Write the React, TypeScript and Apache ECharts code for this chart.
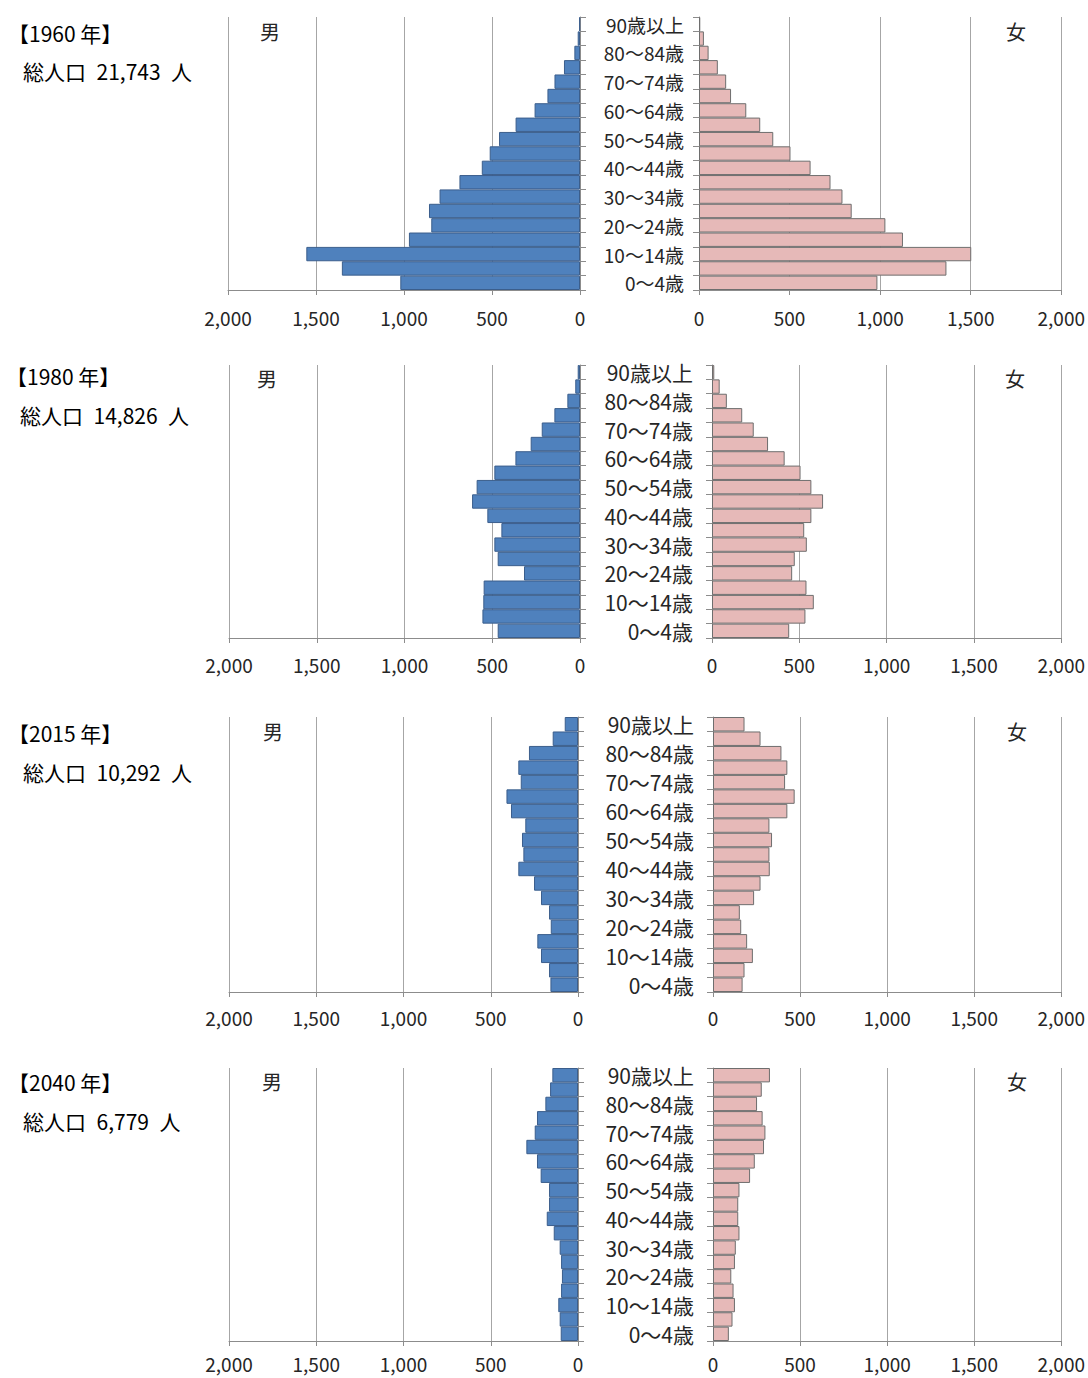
import React, { useEffect, useRef } from "react";
import * as echarts from "echarts";

const ageGroups = [
  "0～4歳", "5～9歳", "10～14歳", "15～19歳", "20～24歳", "25～29歳", "30～34歳",
  "35～39歳", "40～44歳", "45～49歳", "50～54歳", "55～59歳", "60～64歳", "65～69歳",
  "70～74歳", "75～79歳", "80～84歳", "85～89歳", "90歳以上",
];

const years = ["1960", "1980", "2015", "2040"];
const totals = ["21,743", "14,826", "10,292", "6,779"];

const male1960 = [1021, 1353, 1555, 972, 845, 858, 798, 685, 558, 513, 460, 366, 258, 185, 145, 91, 32, 13, 4];
const female1960 = [985, 1366, 1503, 1126, 1029, 843, 792, 726, 616, 505, 410, 338, 261, 177, 150, 104, 53, 27, 7];
const male1980 = [469, 556, 551, 549, 319, 469, 488, 448, 528, 615, 589, 488, 368, 281, 218, 146, 72, 27, 13];
const female1980 = [442, 535, 583, 541, 459, 474, 543, 528, 569, 636, 569, 507, 416, 321, 239, 173, 85, 44, 13];
const male2015 = [158, 166, 212, 233, 156, 166, 212, 252, 342, 313, 321, 302, 384, 410, 328, 342, 281, 145, 76];
const female2015 = [170, 181, 229, 196, 162, 154, 236, 273, 326, 324, 339, 324, 427, 469, 414, 427, 393, 273, 181];
const male2040 = [99, 105, 113, 97, 92, 97, 105, 139, 179, 166, 166, 214, 235, 296, 248, 235, 187, 160, 147];
const female2040 = [91, 112, 126, 118, 105, 126, 131, 152, 145, 145, 152, 213, 240, 293, 301, 285, 253, 280, 327];

const maleSeries = [male1960, male1980, male2015, male2040];
const femaleSeries = [female1960, female1980, female2015, female2040];

const xTicks = { min: 0, max: 2000, interval: 500 };

// layout (pixels)
const layout = [
  { T: 17, B: 290, mL: 228, mR: 580, fL: 699, fR: 1064, catFont: 19, catMargin: 15, xMargin: 18, titleY: 35, totalY: 73, titleX: 8, totalX: 23, maleX: 270, femX: 1016, sexY: 31 },
  { T: 365, B: 638, mL: 229, mR: 580, fL: 712, fR: 1063, catFont: 21, catMargin: 19, xMargin: 17, titleY: 378, totalY: 417, titleX: 6, totalX: 20, maleX: 267, femX: 1015, sexY: 378 },
  { T: 717, B: 992, mL: 229, mR: 578, fL: 713, fR: 1062, catFont: 21, catMargin: 19, xMargin: 16, titleY: 735, totalY: 774, titleX: 8, totalX: 23, maleX: 273, femX: 1017, sexY: 731 },
  { T: 1068, B: 1341, mL: 229, mR: 578, fL: 713, fR: 1064, catFont: 21, catMargin: 19, xMargin: 13, titleY: 1084, totalY: 1123, titleX: 8, totalX: 23, maleX: 272, femX: 1017, sexY: 1081 },
];

const FONT = '"Noto Sans CJK JP", "Noto Sans", sans-serif';
const GRID_COLOR = "#a6a6a6";
const AXIS_COLOR = "#8c8c8c";
const TEXT_COLOR = "#262626";
const SP = "\u2002";

function fmt(v: number) {
  return v.toLocaleString("en-US");
}

export default function App() {
  const ref = useRef<HTMLDivElement>(null);
  useEffect(() => {
    if (!ref.current) return;
    const chart = echarts.init(ref.current, null, { renderer: "svg" });
    const grids: any[] = [];
    const xAxes: any[] = [];
    const yAxes: any[] = [];
    const series: any[] = [];
    const graphics: any[] = [];

    layout.forEach((L, p) => {
      const sides = [
        { left: L.mL, right: L.mR, male: true },
        { left: L.fL, right: L.fR, male: false },
      ];
      sides.forEach((s, k) => {
        const gi = p * 2 + k;
        grids.push({ left: s.left, top: L.T, width: s.right - s.left, height: L.B - L.T, containLabel: false });
        xAxes.push({
          type: "value",
          gridIndex: gi,
          inverse: s.male,
          min: xTicks.min,
          max: xTicks.max,
          interval: xTicks.interval,
          axisLine: { show: true, lineStyle: { color: AXIS_COLOR, width: 1 } },
          axisTick: { show: true, length: 5, lineStyle: { color: AXIS_COLOR } },
          splitLine: { show: true, lineStyle: { color: GRID_COLOR, width: 1 } },
          axisLabel: { formatter: (v: number) => fmt(v), fontSize: 19, color: TEXT_COLOR, fontFamily: FONT, margin: L.xMargin },
        });
        yAxes.push({
          type: "category",
          gridIndex: gi,
          data: ageGroups,
          position: s.male ? "right" : "left",
          axisLine: { show: true, onZero: false, lineStyle: { color: AXIS_COLOR, width: 1 } },
          axisTick: { show: true, interval: 0, length: 6, inside: false, lineStyle: { color: AXIS_COLOR } },
          axisLabel: s.male
            ? { show: false }
            : { show: true, interval: 1, fontSize: L.catFont, color: TEXT_COLOR, fontFamily: FONT, margin: L.catMargin },
          splitLine: { show: false },
        });
        series.push({
          type: "bar",
          name: s.male ? "男" : "女",
          xAxisIndex: gi,
          yAxisIndex: gi,
          data: s.male ? maleSeries[p] : femaleSeries[p],
          barCategoryGap: "0%",
          itemStyle: s.male
            ? { color: "#4F81BD", borderColor: "#3B5E8C", borderWidth: 1 }
            : { color: "#E6B9B8", borderColor: "#6E6E6E", borderWidth: 1 },
        });
      });

      graphics.push({
        type: "text",
        left: L.titleX,
        top: L.titleY - 13,
        style: { text: `【${years[p]} 年】`, fontSize: 21, fontFamily: FONT, fill: "#000" },
      });
      graphics.push({
        type: "text",
        left: L.totalX,
        top: L.totalY - 13,
        style: { text: `総人口${SP}${totals[p]}${SP}人`, fontSize: 21, fontFamily: FONT, fill: "#000" },
      });
      graphics.push({
        type: "text",
        x: L.maleX,
        y: L.sexY,
        style: { text: "男", fontSize: 20, fontFamily: FONT, fill: TEXT_COLOR, align: "center", verticalAlign: "middle" },
      });
      graphics.push({
        type: "text",
        x: L.femX,
        y: L.sexY,
        style: { text: "女", fontSize: 20, fontFamily: FONT, fill: TEXT_COLOR, align: "center", verticalAlign: "middle" },
      });
    });

    chart.setOption({
      animation: false,
      backgroundColor: "#ffffff",
      grid: grids,
      xAxis: xAxes,
      yAxis: yAxes,
      series,
      graphic: graphics,
    });
    return () => chart.dispose();
  }, []);

  return (
    <div
      ref={ref}
      style={{ position: "absolute", left: 0, top: 0, width: 1088, height: 1378 }}
    />
  );
}
